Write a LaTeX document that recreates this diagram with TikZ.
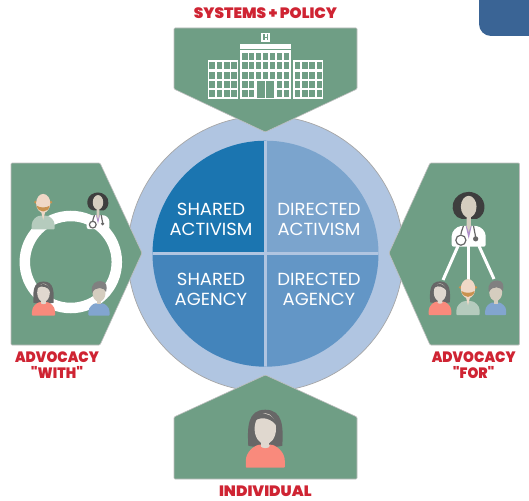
\documentclass[tikz,border=0pt]{standalone}
\usepackage{fontspec}
\setmainfont{Poppins}
\newfontfamily\heavyfont{Poppins Black}
\definecolor{panel}{HTML}{6F9E85}
\definecolor{ringc}{HTML}{B0C5E1}
\definecolor{qa}{HTML}{1B75B0}
\definecolor{qb}{HTML}{7BA4CD}
\definecolor{qc}{HTML}{4384BB}
\definecolor{qd}{HTML}{6396C6}
\definecolor{redt}{HTML}{CF2433}
\definecolor{corner}{HTML}{3A6495}
\definecolor{salmon}{HTML}{F98A7C}
\definecolor{hairw}{HTML}{676767}
\definecolor{skinw}{HTML}{E0D8CF}
\definecolor{skinb}{HTML}{D5CDBF}
\definecolor{skinm}{HTML}{F0D8C6}
\definecolor{beard}{HTML}{C9924F}
\definecolor{bodym}{HTML}{B5CBBD}
\definecolor{bodyg}{HTML}{82A5CF}
\definecolor{hairg}{HTML}{808080}
\definecolor{haird}{HTML}{3E3E3E}
\definecolor{purp}{HTML}{B08FCB}
\tikzset{
  panelbox/.style={fill=panel,draw=black!25,line width=.6pt,rounded corners=1pt},
  redlabel/.style={text=redt,font=\heavyfont\fontsize{15}{15.6}\selectfont,align=center,inner sep=0pt},
  quadlabel/.style={text=white,font=\fontsize{17.5}{20.4}\selectfont,align=center,inner sep=0pt,xscale=1.03,transform shape},
  wlink/.style={draw=white,line width=3pt}
}
% body half width 19.5, origin at bottom centre, y grows downward
\newcommand{\bodyshape}[1]{\fill[#1,rounded corners=.8pt] (-19.5,0) -- (-19.5,-6) .. controls (-19.5,-16) and (-11,-22) .. (-6,-23) -- (6,-23) .. controls (11,-22) and (19.5,-16) .. (19.5,-6) -- (19.5,0) -- cycle;}
\newcommand{\womanfig}[3]{\begin{scope}[shift={(#1,#2)},scale=#3]
  \fill[hairw] (-17,-22) .. controls (-18,-40) and (-18,-58) .. (0,-58) .. controls (18,-58) and (18,-40) .. (17,-22) .. controls (12,-20) and (-12,-20) .. (-17,-22) -- cycle;
  \bodyshape{salmon}
  \fill[skinw] (-4,-30) rectangle (4,-21);
  \fill[skinw] (0,-22) ellipse [x radius=4.5,y radius=2.5];
  \fill[skinw] (0,-39) ellipse [x radius=10.7,y radius=15.5];
  \fill[hairw] (-10.5,-47) .. controls (-9,-57) and (9,-57) .. (12,-41) .. controls (7,-49) and (-3,-52) .. (-10.5,-47) -- cycle;
\end{scope}}
\newcommand{\manfig}[3]{\begin{scope}[shift={(#1,#2)},scale=#3]
  \bodyshape{bodym}
  \fill[skinm] (-3.5,-30) -- (3.5,-30) -- (0,-16) -- cycle;
  \fill[beard] (-13,-46) circle [radius=2.5];
  \fill[beard] (13,-46) circle [radius=2.5];
  \fill[skinm] (0,-44) ellipse [x radius=12,y radius=16];
  \fill[beard] (-11,-40) .. controls (-9,-27) and (9,-27) .. (11,-40) .. controls (5,-36) and (-5,-36) .. (-11,-40) -- cycle;
\end{scope}}
\newcommand{\greyfig}[3]{\begin{scope}[shift={(#1,#2)},scale=#3]
  \bodyshape{bodyg}
  \fill[skinb] (-4,-32) rectangle (4,-21);
  \fill[skinb] (0,-42) ellipse [x radius=12,y radius=16];
  \fill[hairg] (-12.5,-42) .. controls (-17,-60) and (-4,-65) .. (3,-64) .. controls (14,-64) and (16,-54) .. (13,-44) .. controls (11,-52) and (-7,-56) .. (-12.5,-42) -- cycle;
\end{scope}}
\newcommand{\docfig}[3]{\begin{scope}[shift={(#1,#2)},scale=#3]
  \fill[haird] (0,-63) .. controls (9,-63) and (19,-56) .. (18,-44) .. controls (17,-34) and (9,-31) .. (7,-32) -- (-8,-32) .. controls (-16,-33) and (-20,-42) .. (-18,-50) .. controls (-16,-58) and (-8,-63) .. (0,-63) -- cycle;
  \fill[white,rounded corners=2pt] (-19.5,0) -- (-19.5,-10) .. controls (-19.5,-18) and (-14,-23) .. (-7,-24) -- (7,-24) .. controls (14,-23) and (19.5,-18) .. (19.5,-10) -- (19.5,0) -- cycle;
  \fill[purp] (-3.5,-24) -- (3.5,-24) -- (0,-9) -- cycle;
  \fill[skinb] (-2.5,-36) -- (2.5,-36) -- (2.5,-24) -- (0,-17) -- (-2.5,-24) -- cycle;
  \fill[skinb] (0,-46) ellipse [x radius=9,y radius=12.5];
  \draw[hairg!80!black,line width=1.2pt] (-6,-24) .. controls (-8,-18) and (-9,-16) .. (-9,-14);
  \draw[hairg!80!black,line width=1.2pt] (-9,-7.5) circle [radius=5.8];
  \draw[hairg!80!black,line width=1.2pt] (5.5,-24) -- (8,-11);
  \fill[hairg!80!black] (8,-9) circle [radius=3];
\end{scope}}
\begin{document}
\begin{tikzpicture}[x=1pt,y=-1pt]
\useasboundingbox (0,0) rectangle (529,500);
\fill[white] (0,0) rectangle (529,500);
% corner tab
\fill[corner,rounded corners=12pt] (479,-20) rectangle (549,36);
% central disc
\coordinate (c) at (265.5,253.7);
\node[circle,minimum size=276pt,fill=ringc,draw=black!35,line width=.7pt,inner sep=0pt] (disc) at (c) {};
\begin{scope}
  \clip (c) circle [radius=113];
  \fill[qa] (c) rectangle ++(-120,-120);
  \fill[qb] (c) rectangle ++(120,-120);
  \fill[qc] (c) rectangle ++(-120,120);
  \fill[qd] (c) rectangle ++(120,120);
  \fill[ringc] (264,130) rectangle (267,380);
  \fill[ringc] (150,252.4) rectangle (380,255);
\end{scope}
\node[quadlabel] (sa) at (211,219.5) {SHARED\\ACTIVISM};
\node[quadlabel] (da) at (319,219.5) {DIRECTED\\ACTIVISM};
\node[quadlabel] (sg) at (211,289.5) {SHARED\\AGENCY};
\node[quadlabel] (dg) at (319,289.5) {DIRECTED\\AGENCY};
% panels
\draw[panelbox] (174,28) -- (357,28) -- (357,89) -- (265.3,132) -- (174,89) -- cycle;
\draw[panelbox] (174,479) -- (357,479) -- (357,417) -- (265.3,375) -- (174,417) -- cycle;
\draw[panelbox] (11,163) -- (100,163) -- (142,253) -- (100,345) -- (11,345) -- cycle;
\draw[panelbox] (519.5,163) -- (430,163) -- (389,253) -- (430,345) -- (519.5,345) -- cycle;
% hospital
\fill[white] (207.7,60.3) rectangle (238.3,99);
\fill[white] (240,50) rectangle (290.7,99);
\fill[white] (293.3,60.3) rectangle (323.3,99);
\fill[white] (240,44) rectangle (291,49);
\fill[white] (261,32.7) rectangle (270,41.7);
\foreach \x in {209.3,216.7,224,231.3,294.8,302,309.3,316.6}
  \foreach \y in {62.5,72,81,90.2}
    \fill[panel] (\x,\y) rectangle ++(5.5,6.8);
\foreach \x in {242.3,249.2,256.2,263.2,270,277,284}
  \foreach \y in {53.3,62.5,72}
    \fill[panel] (\x,\y) rectangle ++(5.2,6.8);
\foreach \x in {242.3,249.2,277,284}
  \foreach \y in {81,90.2}
    \fill[panel] (\x,\y) rectangle ++(5.2,6.8);
\fill[panel] (257.2,81.5) rectangle (265.3,97.7);
\fill[panel] (266.1,81.5) rectangle (274.2,97.7);
\fill[panel] (263,34.2) rectangle (264.5,40.2);
\fill[panel] (266.6,34.2) rectangle (268,40.2);
\fill[panel] (263,38) rectangle (268,37);
% individual
\womanfig{265.3}{467.7}{1}
% left panel
\node[circle,draw=white,line width=10.5pt,minimum size=92pt,inner sep=0pt] (ring) at (70.8,262) {};
\manfig{43.2}{229.3}{.59}
\docfig{98}{229}{.58}
\womanfig{43.5}{315.7}{.59}
\greyfig{99}{315.7}{.54}
% right panel
\coordinate (dl) at (458,246);
\coordinate (dm) at (468.7,246);
\coordinate (dr) at (479,246);
\coordinate (pl) at (443,280);
\coordinate (pm) at (468.7,280);
\coordinate (pr) at (494,279);
\draw[wlink] (dl) -- (pl);
\draw[wlink] (dm) -- (pm);
\draw[wlink] (dr) -- (pr);
\docfig{468.7}{246.7}{.87}
\womanfig{440}{315}{.58}
\manfig{468}{315}{.6}
\greyfig{495.7}{315}{.54}
% labels
\node[redlabel,xscale=1.02,transform shape] (top) at (265.5,13) {SYSTEMS + POLICY};
\node[redlabel,xscale=.92,transform shape] (left) at (57,365) {ADVOCACY\\"WITH"};
\node[redlabel,xscale=.92,transform shape] (right) at (473.7,365) {ADVOCACY\\"FOR"};
\node[redlabel,xscale=1.03,transform shape] (bottom) at (265.3,491.5) {INDIVIDUAL};
\end{tikzpicture}
\end{document}
